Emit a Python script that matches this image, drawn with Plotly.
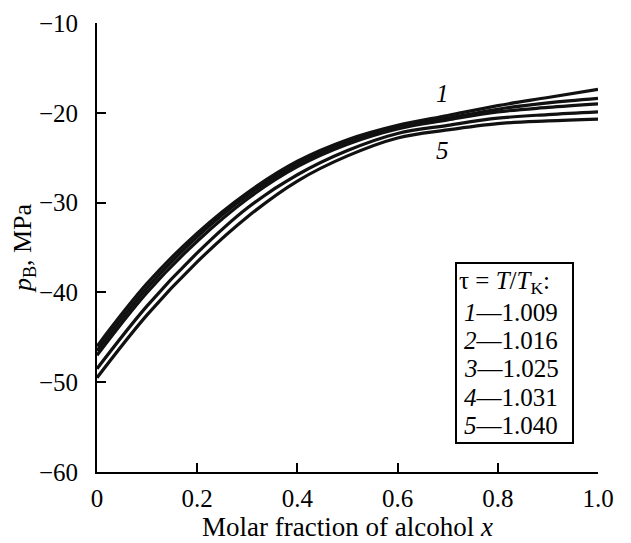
import plotly.graph_objects as go

x = [0, 0.1, 0.2, 0.3, 0.4, 0.5, 0.6, 0.7, 0.8, 0.9, 1.0]
c1 = [-46.0, -39.0, -33.4, -28.9, -25.4, -23.0, -21.4, -20.3, -19.2, -18.3, -17.4]
c2 = [-46.5, -39.5, -33.8, -29.2, -25.7, -23.2, -21.6, -20.6, -19.6, -18.9, -18.4]
c3 = [-47.0, -40.0, -34.3, -29.6, -26.0, -23.5, -21.8, -20.8, -19.9, -19.4, -19.0]
c4 = [-48.5, -41.5, -35.6, -30.6, -26.9, -24.2, -22.3, -21.4, -20.6, -20.2, -19.9]
c5 = [-49.5, -42.5, -36.6, -31.6, -27.6, -24.8, -22.8, -21.9, -21.2, -20.9, -20.7]
curves = [c1, c2, c3, c4, c5]
taus = ["1.009", "1.016", "1.025", "1.031", "1.040"]
xticks = [0, 0.2, 0.4, 0.6, 0.8, 1.0]
xticklabels = ["0", "0.2", "0.4", "0.6", "0.8", "1.0"]
yticks = [-60, -50, -40, -30, -20, -10]

FONT = "Liberation Serif"

# page body has an 8px margin; plot area target: x 97..598, y 23..472 (page px)
L, T, R, B = 89, 15, 33, 71
W, H = 623, 535
PX0, PX1, PY0, PY1 = 97, 598, 23, 472


def px2paper_x(px):
    return (px - PX0) / (PX1 - PX0)


def px2paper_y(py):
    return (PY1 - py) / (PY1 - PY0)


fig = go.Figure()
for i, c in enumerate(curves):
    fig.add_trace(go.Scatter(x=x, y=c, mode="lines",
                             line=dict(color="#111111", width=3.2, shape="spline", smoothing=1.0),
                             showlegend=False, name=str(i + 1)))

fig.update_layout(
    width=W, height=H,
    margin=dict(l=L, r=R, t=T, b=B, autoexpand=False),
    paper_bgcolor="white", plot_bgcolor="white",
    font=dict(family=FONT, size=25, color="black"),
    xaxis=dict(range=[0, 1.0], tickvals=xticks, ticktext=xticklabels,
               automargin=False,
               showline=True, linecolor="black", linewidth=2,
               ticks="inside", ticklen=9, tickwidth=2, tickcolor="black",
               ticklabelstandoff=3,
               showgrid=False, zeroline=False,
               tickfont=dict(family=FONT, size=25),
               title=dict(text="Molar fraction of alcohol <i>x</i>", standoff=1,
                          font=dict(family=FONT, size=27))),
    yaxis=dict(range=[-60, -10], tickvals=yticks,
               automargin=False,
               showline=True, linecolor="black", linewidth=2,
               ticks="inside", ticklen=9, tickwidth=2, tickcolor="black",
               ticklabelstandoff=12,
               showgrid=False, zeroline=False,
               tickfont=dict(family=FONT, size=25),
               title=dict(text="<i>p</i><sub>B</sub>, MPa", standoff=3,
                          font=dict(family=FONT, size=26))),
)

fig.add_annotation(x=0.69, y=-17.8, xref="x", yref="y", text="<i>1</i>",
                   showarrow=False, font=dict(family=FONT, size=25))
fig.add_annotation(x=0.69, y=-24.2, xref="x", yref="y", text="<i>5</i>",
                   showarrow=False, font=dict(family=FONT, size=25))

# legend box
fig.add_shape(type="rect", xref="paper", yref="paper",
              x0=px2paper_x(456), x1=px2paper_x(573),
              y0=px2paper_y(443), y1=px2paper_y(263),
              line=dict(color="black", width=2), fillcolor="white", layer="above")

fig.add_annotation(x=px2paper_x(457), y=px2paper_y(283), xref="paper", yref="paper",
                   xanchor="left", yanchor="middle",
                   text="τ = <i>T</i>/<i>T</i><sub>K</sub>:", showarrow=False,
                   font=dict(family=FONT, size=25))
item_y = [312, 340, 368, 397, 425]
for i, (t, py) in enumerate(zip(taus, item_y)):
    fig.add_annotation(x=px2paper_x(462), y=px2paper_y(py), xref="paper", yref="paper",
                       xanchor="left", yanchor="middle",
                       text=f"<i>{i + 1}</i>—{t}", showarrow=False,
                       font=dict(family=FONT, size=25))

fig.write_html("out.html")
